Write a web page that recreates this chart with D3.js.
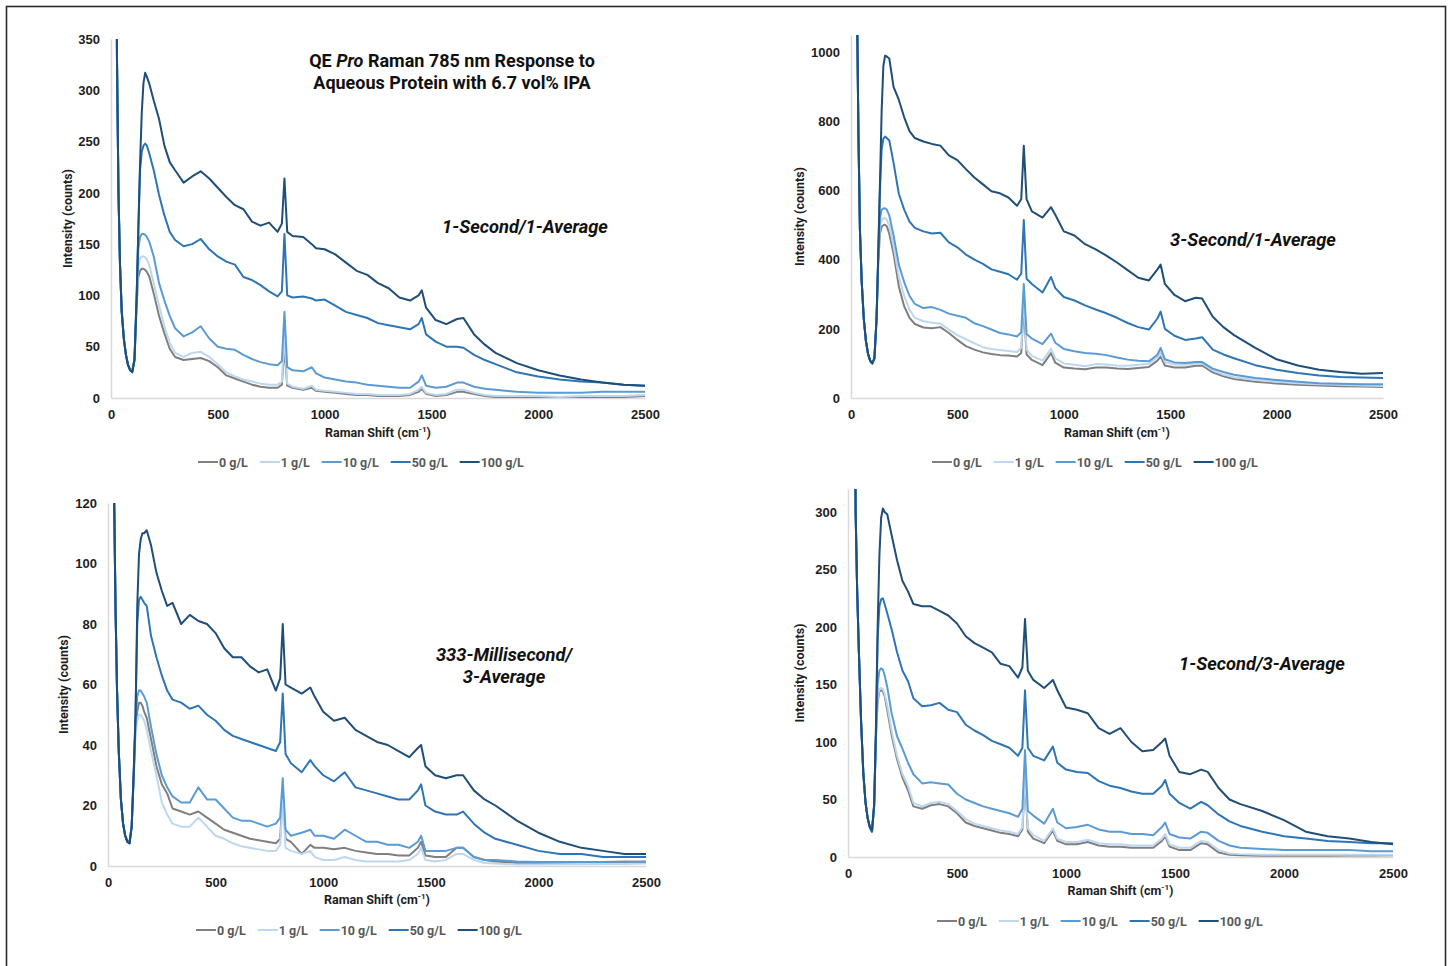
<!DOCTYPE html>
<html>
<head>
<meta charset="utf-8">
<script src="https://cdn.jsdelivr.net/npm/d3@7"></script>
<style>
  body { margin: 0; background: #fff; }
  svg { font-family: Roboto, "Open Sans", sans-serif; }
</style>
</head>
<body>
<svg id="chart" width="1451" height="966"></svg>
<script>
// Raman shift grid (cm-1) shared by every spectrum
const ramanShift = [22, 28, 35, 42, 50, 60, 70, 80, 90, 100, 110, 120, 128, 136, 144, 152, 160, 168,
  180, 200, 225, 250, 275, 300, 340, 380, 420, 460,
  500, 540, 580, 620, 660, 700, 740, 780, 800, 812, 825, 850, 900, 940, 960, 1000, 1050, 1100, 1150, 1200,
  1250, 1300, 1350, 1400, 1440, 1455, 1475, 1520, 1570, 1620, 1650, 1700, 1750, 1800, 1900, 2000, 2100, 2200, 2300, 2400, 2500];

const concentrations = ['0 g/L', '1 g/L', '10 g/L', '50 g/L', '100 g/L'];
const xTicks = [0, 500, 1000, 1500, 2000, 2500];

// 1-Second / 1-Average, series order as concentrations
const sec1avg1 = [
  [600,330,200,131,85,58,42,32,28,28,36,90,118,124,126,126,125,123,
   118,102,80,63,48,40,37,38,39,36,30,22,19,16,13,11,10,10,13,50,12,10,8,10,7,6,5,4,3,3,2,2,2,3,6,9,4,2,3,6,6,4,2,1,1,1,1,1,1,1,2],
  [600,330,200,131,85,58,42,32,27,27,36,92,128,136,138,138,137,135,
   129,112,90,70,54,44,40,44,45,40,33,25,21,18,16,14,13,13,16,62,14,11,9,12,8,7,6,5,4,4,3,3,3,4,8,11,5,3,4,8,8,5,3,2,2,2,1,2,2,2,3],
  [600,330,200,131,85,58,42,32,27,26,37,96,145,157,160,160,159,157,
   152,138,112,95,80,68,60,64,70,58,50,48,47,42,38,35,33,32,36,84,30,27,26,30,24,20,18,16,15,13,12,11,10,10,16,22,12,10,11,15,15,11,9,8,6,5,5,5,6,6,6],
  [600,330,200,131,85,58,42,32,27,26,38,98,164,222,240,246,248,246,
   238,222,198,178,162,154,148,150,155,145,138,133,130,118,115,110,104,99,104,160,100,98,99,97,95,96,90,84,81,78,73,71,69,67,72,78,62,55,50,50,49,42,37,33,25,21,18,16,15,13,12],
  [600,330,200,131,85,58,42,32,27,25,38,98,164,229,278,307,317,313,
   306,290,272,246,230,222,210,216,221,214,205,196,188,184,172,168,171,162,170,214,162,158,157,150,146,145,140,132,124,120,112,107,98,95,100,105,88,76,72,77,78,62,52,44,34,27,22,18,15,13,12]
];

// 3-Second / 1-Average
const sec3avg1 = [
  [2000,1150,760,486,340,230,165,128,108,100,113,225,390,475,495,500,501,497,
   475,418,322,265,232,214,204,202,205,188,168,150,140,132,127,124,123,120,130,270,126,110,95,130,102,88,85,83,88,88,85,84,87,90,108,120,94,88,88,93,94,74,63,55,47,42,38,36,34,33,32],
  [2000,1150,760,486,340,230,165,128,108,100,113,226,395,495,515,520,520,516,
   498,440,350,295,255,232,222,218,215,198,182,170,158,147,142,139,136,133,145,295,140,122,108,142,115,100,96,92,98,97,94,93,96,99,118,132,104,97,96,100,100,80,68,60,52,47,43,40,38,36,35],
  [2000,1150,760,486,340,230,165,128,107,100,114,228,400,520,545,548,549,545,
   528,470,385,335,295,272,260,263,255,244,238,232,216,208,198,188,184,178,190,330,185,172,156,186,160,142,135,130,128,124,117,111,108,106,125,145,112,103,101,104,104,85,75,67,58,52,47,43,41,40,40],
  [2000,1150,760,486,340,230,165,128,108,100,115,228,410,600,720,750,756,752,
   745,680,590,545,510,492,482,476,478,450,436,415,400,388,372,365,358,342,360,515,345,330,305,350,318,292,282,268,256,245,232,217,205,198,230,250,200,180,168,172,176,140,126,115,95,82,72,65,61,59,58],
  [2000,1150,760,486,340,230,165,128,108,100,115,230,420,620,830,960,990,988,
   982,900,862,812,772,752,742,735,730,702,688,662,638,618,598,592,580,556,575,730,575,540,522,552,530,482,470,445,430,412,392,370,348,340,372,386,330,298,280,290,288,235,205,182,145,112,94,82,75,70,72]
];

// 333-Millisecond / 3-Average
const ms333avg3 = [
  [200,125,85,58,38,22,14,10,8.5,8,13,30,46,51,54,54,53,51,
   49,42,33,27,24,19,18,17,18,16,14,12,11,10,9,8.5,8,7.5,9,24,9,8,4,7,6,6,5.5,6,5,4.5,4,4,3.5,3.5,6,8,3.5,3,3,6,6,3,2,1.5,1,1,1,1.2,1.2,1.3,1.5],
  [200,125,85,58,38,22,14,10,8,7.5,13,30,44,48,50,50,49,48,
   45,38,30,21,17,14,13,13,16,13,10,9,7.5,6.5,6,5.5,5,5,7,22,6,5,4,5,3,2,2,3,2,1.5,1.5,1.5,1.5,2,4,6,2,1.5,2,4,4,2,1,0.8,0.5,0.5,0.6,0.6,0.7,0.7,0.8],
  [200,125,85,58,38,22,14,10,8,7.5,13,31,48,56,58,58,57,56,
   54,46,37,30,26,23,21,21,26,22,22,19,16,15,15,14,13,14,16,29,12,10,11,12,10,10,9,12,10,8,8,7,7,6,8,10,5,5,5,6,6,3,2,2,1.5,1.3,1.3,1.3,1.3,1.5,1.3],
  [200,125,85,58,38,22,14,10,8,7.5,13,32,50,80,88,89,88,87,
   86,76,69,63,58,55,54,52,53,50,48,45,43,42,41,40,39,38,41,57,37,34,31,35,33,30,28,31,26,25,24,23,22,22,25,27,20,18,17,17,18,14,11,9,7,5,4,4,3,3,3],
  [200,125,85,58,38,22,14,10,8,7.5,13,32,50,86,103,108,110,110,
   111,106,97,91,86,87,80,83,81,80,77,72,69,69,66,64,65,58,62,80,60,59,57,59,56,51,48,49,45,43,41,40,38,36,39,40,33,30,29,30,30,25,22,20,15,11,8,6,5,4,4]
];

// 1-Second / 3-Average
const sec1avg3 = [
  [1500,520,300,232,178,118,74,48,34,26,22,44,103,135,144,145,144,140,
   128,106,85,69,58,44,42,45,46,44,38,30,27,25,23,21,20,18,24,68,22,16,12,23,14,11,11,13,10,9,9,8,8,8,14,18,9,6,6,12,11,4,2,1.5,1,1,1,1,1.2,1.2,1.5],
  [1500,520,300,232,178,118,74,48,34,26,22,44,104,138,146,147,146,142,
   132,110,88,72,62,47,44,47,48,46,40,33,29,27,25,23,22,20,26,72,25,19,14,25,16,13,13,15,12,11,11,10,10,10,16,20,11,8,8,14,13,6,3,2.5,2,2,2,2,2,2,2],
  [1500,520,300,232,178,118,74,48,34,26,22,45,105,150,162,164,163,158,
   148,125,105,94,82,72,64,65,64,63,55,50,47,44,42,40,38,35,42,93,40,36,29,42,30,25,26,28,24,22,22,20,20,19,26,30,20,17,16,22,21,14,10,8,7,6,6,6,6,5,5],
  [1500,520,300,232,178,118,74,48,34,26,22,45,108,190,218,224,225,220,
   212,198,178,162,153,138,131,132,134,128,126,115,110,106,101,98,95,88,95,145,95,88,84,96,82,76,74,73,66,62,60,57,55,55,62,67,55,47,42,48,45,37,31,27,22,18,16,14,13,12,12],
  [1500,520,300,232,178,118,74,48,34,26,23,46,110,200,262,295,303,300,
   298,280,258,240,231,220,218,218,214,210,203,192,186,182,178,168,166,156,165,207,162,154,147,154,145,130,128,125,112,107,112,100,92,93,100,103,88,74,72,76,74,60,50,46,40,32,22,18,16,13,11]
];

const yTicksA = [0, 50, 100, 150, 200, 250, 300, 350];
const yTicksB = [0, 200, 400, 600, 800, 1000];
const yTicksC = [0, 20, 40, 60, 80, 100, 120];
const yTicksD = [0, 50, 100, 150, 200, 250, 300];

const colors = ['#7f7f7f', '#bdd7ee', '#5b9bd5', '#2e75b6', '#1f4e79'];

var svg = d3.select('#chart');

// outer frame
svg.append('rect')
    .attr('x', 6.5).attr('y', 6.5)
    .attr('width', 1439).attr('height', 990)
    .attr('fill', 'none')
    .attr('stroke', '#2b2b2b')
    .attr('stroke-width', 1.6);

var panels = [
    {data: sec1avg1, yMax: 350, yTicks: yTicksA, left: 111, right: 645, top: 39, bottom: 398,
     note: ['1-Second/1-Average'], noteX: 525, noteY: 233,
     yTitleX: 72, xTitleY: 437, legendX: 198, legendY: 462},
    {data: sec3avg1, yMax: 1050, yTicks: yTicksB, left: 851, right: 1383, top: 35, bottom: 398,
     note: ['3-Second/1-Average'], noteX: 1253, noteY: 246,
     yTitleX: 804, xTitleY: 437, legendX: 932, legendY: 462},
    {data: ms333avg3, yMax: 120, yTicks: yTicksC, left: 108, right: 646, top: 503, bottom: 866,
     note: ['333-Millisecond/', '3-Average'], noteX: 504, noteY: 661,
     yTitleX: 68, xTitleY: 904, legendX: 196, legendY: 930},
    {data: sec1avg3, yMax: 320, yTicks: yTicksD, left: 848, right: 1393, top: 489, bottom: 857,
     note: ['1-Second/3-Average'], noteX: 1262, noteY: 670,
     yTitleX: 804, xTitleY: 895, legendX: 937, legendY: 921}
];

panels.forEach(function(p, pi) {
    var x = d3.scaleLinear().domain([0, 2500]).range([p.left, p.right]);
    var y = d3.scaleLinear().domain([0, p.yMax]).range([p.bottom, p.top]);
    var g = svg.append('g');

    g.append('clipPath').attr('id', 'clip' + pi)
        .append('rect')
        .attr('x', p.left).attr('y', p.top)
        .attr('width', p.right - p.left + 2).attr('height', p.bottom - p.top);

    //axes
    var xAxis = g.append('g')
        .attr('transform', 'translate(0,' + p.bottom + ')')
        .call(d3.axisBottom(x).tickValues(xTicks).tickFormat(d3.format('d'))
            .tickSize(0).tickSizeOuter(0).tickPadding(12));
    var yAxis = g.append('g')
        .attr('transform', 'translate(' + p.left + ',0)')
        .call(d3.axisLeft(y).tickValues(p.yTicks).tickFormat(d3.format('d'))
            .tickSize(0).tickSizeOuter(0).tickPadding(11));
    [xAxis, yAxis].forEach(function(a) {
        a.select('.domain').attr('stroke', '#d9d9d9').attr('stroke-width', 1.5);
        a.selectAll('text')
            .attr('fill', '#1e1e1e')
            .style('font-size', '13px')
            .style('font-weight', 'bold');
    });

    var line = d3.line()
        .x(function(d) { return x(d[0]); })
        .y(function(d) { return y(d[1]); });

    g.append('g').attr('clip-path', 'url(#clip' + pi + ')')
        .selectAll('path')
        .data(p.data)
        .enter().append('path')
        .attr('d', function(d) { return line(d3.zip(ramanShift, d)); })
        .attr('fill', 'none')
        .attr('stroke', function(d, i) { return colors[i]; })
        .attr('stroke-width', 2)
        .attr('stroke-linejoin', 'round');

    // axis titles
    var xt = g.append('text')
        .attr('x', (p.left + p.right) / 2).attr('y', p.xTitleY)
        .attr('text-anchor', 'middle')
        .attr('fill', '#1e1e1e')
        .style('font-size', '12.5px').style('font-weight', 'bold');
    xt.append('tspan').text('Raman Shift (cm');
    xt.append('tspan').attr('dy', -5).style('font-size', '8px').text('-1');
    xt.append('tspan').attr('dy', 5).text(')');

    g.append('text')
        .attr('transform', 'translate(' + p.yTitleX + ',' + (p.top + p.bottom) / 2 + ') rotate(-90)')
        .attr('text-anchor', 'middle')
        .attr('fill', '#1e1e1e')
        .style('font-size', '12.5px').style('font-weight', 'bold')
        .text('Intensity (counts)');

    // in-plot label
    p.note.forEach(function(t, k) {
        g.append('text')
            .attr('x', p.noteX).attr('y', p.noteY + k * 22)
            .attr('text-anchor', 'middle')
            .attr('fill', '#111')
            .style('font-size', '18.3px').style('font-weight', 'bold').style('font-style', 'italic')
            .text(t);
    });

    // legend
    var lx = p.legendX;
    concentrations.forEach(function(c, i) {
        g.append('line')
            .attr('x1', lx).attr('x2', lx + 20)
            .attr('y1', p.legendY).attr('y2', p.legendY)
            .attr('stroke', colors[i]).attr('stroke-width', 2);
        var t = g.append('text')
            .attr('x', lx + 21).attr('y', p.legendY + 4.5)
            .attr('fill', '#595959')
            .style('font-size', '12.5px').style('font-weight', 'bold')
            .text(c);
        lx += 21 + t.node().getComputedTextLength() + 12;
    });
});

// chart title (top-left panel)
var title = svg.append('g')
    .attr('fill', '#111')
    .style('font-size', '18px').style('font-weight', 'bold');
var t1 = title.append('text').attr('x', 452).attr('y', 67).attr('text-anchor', 'middle');
t1.append('tspan').text('QE ');
t1.append('tspan').style('font-style', 'italic').text('Pro');
t1.append('tspan').text(' Raman 785 nm Response to');
title.append('text').attr('x', 452).attr('y', 89).attr('text-anchor', 'middle')
    .text('Aqueous Protein with 6.7 vol% IPA');
</script>
</body>
</html>
